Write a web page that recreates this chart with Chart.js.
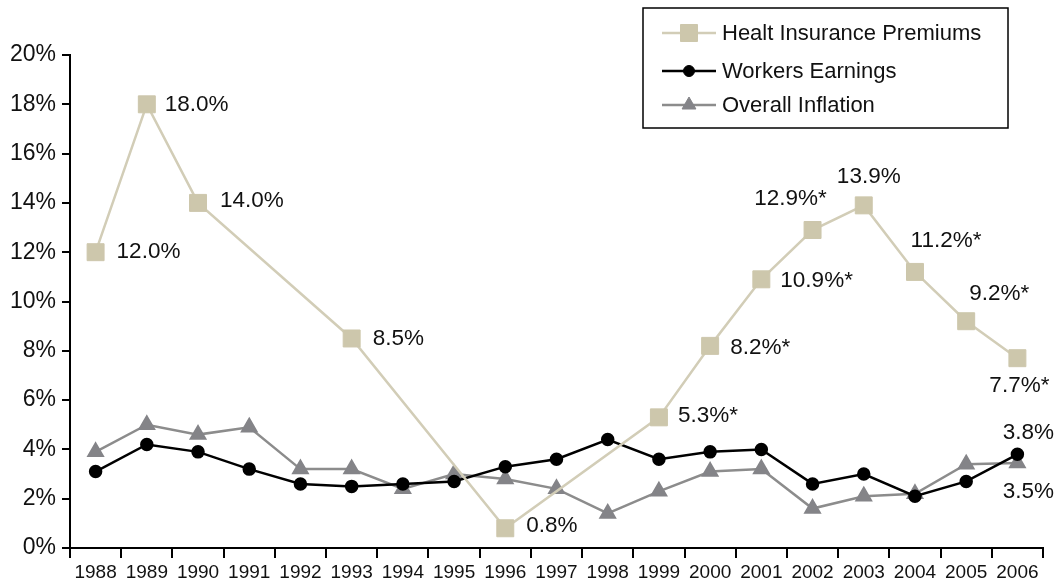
<!DOCTYPE html>
<html>
<head>
<meta charset="utf-8">
<script src="https://cdn.jsdelivr.net/npm/chart.js@4.4.1/dist/chart.umd.min.js"></script>
<style>
  html, body { margin: 0; padding: 0; background: #fff; }
  #wrap { width: 1059px; height: 583px; position: relative; }
</style>
</head>
<body>
<div id="wrap"><canvas id="c" width="1059" height="583"></canvas></div>
<script>
const years = ["1988","1989","1990","1991","1992","1993","1994","1995","1996","1997","1998","1999","2000","2001","2002","2003","2004","2005","2006"];
const premiums = [12.0, 18.0, 14.0, null, null, 8.5, null, null, 0.8, null, null, 5.3, 8.2, 10.9, 12.9, 13.9, 11.2, 9.2, 7.7];
const premiumLabels = ["12.0%","18.0%","14.0%",null,null,"8.5%",null,null,"0.8%",null,null,"5.3%*","8.2%*","10.9%*","12.9%*","13.9%","11.2%*","9.2%*","7.7%*"];
const earnings = [3.1, 4.2, 3.9, 3.2, 2.6, 2.5, 2.6, 2.7, 3.3, 3.6, 4.4, 3.6, 3.9, 4.0, 2.6, 3.0, 2.1, 2.7, 3.8];
const inflation = [3.9, 5.0, 4.6, 4.9, 3.2, 3.2, 2.4, 3.0, 2.8, 2.4, 1.4, 2.3, 3.1, 3.2, 1.6, 2.1, 2.2, 3.4, 3.45];
const yTicks = [0, 2, 4, 6, 8, 10, 12, 14, 16, 18, 20];
const seriesNames = ["Healt Insurance Premiums", "Workers Earnings", "Overall Inflation"];

// label placement (style): [dx, dy, textAlign]
const premiumLabelPos = [
  [21,0,"left"],[18,0,"left"],[22,-2,"left"],null,null,[21,0,"left"],null,null,[21,-2,"left"],null,null,
  [19,-2,"left"],[20,2,"left"],[19,1,"left"],[-22,-31,"center"],[5,-29,"center"],[31,-31,"center"],[33,-27,"center"],[2,28,"center"]
];
const extraLabels = [
  { ds: 1, idx: 18, text: "3.8%", dx: 11, dy: -22, align: "center" },
  { ds: 2, idx: 18, text: "3.5%", dx: 11, dy: 29, align: "center" }
];

const FONT = "'Liberation Sans', Arial, sans-serif";
const cPrem = "#cdc7ac", cPremLine = "#d2cdb7", cEarn = "#000000", cInfl = "#848488", cInflLine = "#8c8c8c";

const labelPlugin = {
  id: "dataLabels",
  afterDatasetsDraw(chart) {
    const ctx = chart.ctx;
    ctx.save();
    ctx.font = "22.5px " + FONT;
    ctx.fillStyle = "#111";
    ctx.textBaseline = "middle";
    const meta0 = chart.getDatasetMeta(0);
    premiumLabels.forEach((t, i) => {
      if (!t || !premiumLabelPos[i]) return;
      const p = meta0.data[i];
      const [dx, dy, al] = premiumLabelPos[i];
      ctx.textAlign = al;
      ctx.fillText(t, p.x + dx, p.y + dy);
    });
    extraLabels.forEach(l => {
      const p = chart.getDatasetMeta(l.ds).data[l.idx];
      ctx.textAlign = l.align;
      ctx.fillText(l.text, p.x + l.dx, p.y + l.dy);
    });
    ctx.restore();
  }
};

const legendPlugin = {
  id: "boxLegend",
  afterDraw(chart) {
    const ctx = chart.ctx;
    ctx.save();
    const bx = 643, by = 8, bw = 365, bh = 120;
    ctx.strokeStyle = "#000";
    ctx.lineWidth = 1.5;
    ctx.strokeRect(bx, by, bw, bh);
    const rows = [33, 71, 105];
    const styles = [
      { line: cPremLine, fill: cPrem, ps: "rect", r: 12 },
      { line: cEarn, fill: cEarn, ps: "circle", r: 5.5 },
      { line: cInflLine, fill: cInfl, ps: "triangle", r: 8 }
    ];
    rows.forEach((y, i) => {
      const s = styles[i];
      ctx.strokeStyle = s.line;
      ctx.lineWidth = 2.5;
      ctx.beginPath();
      ctx.moveTo(662, y); ctx.lineTo(716, y);
      ctx.stroke();
      ctx.fillStyle = s.fill;
      ctx.strokeStyle = s.fill;
      ctx.lineWidth = 1;
      Chart.helpers.drawPoint(ctx, { pointStyle: s.ps, radius: s.r, rotation: 0, borderWidth: 1 }, 689, y);
      ctx.fillStyle = "#111";
      ctx.font = "22px " + FONT;
      ctx.textAlign = "left";
      ctx.textBaseline = "middle";
      ctx.fillText(seriesNames[i], 722, y + 1);
    });
    ctx.restore();
  }
};

new Chart(document.getElementById("c"), {
  type: "line",
  data: {
    labels: years,
    datasets: [
      { label: seriesNames[0], data: premiums, spanGaps: true, borderColor: cPremLine, borderWidth: 2.5,
        pointStyle: "rect", pointRadius: 12, pointHoverRadius: 12, pointBackgroundColor: cPrem, pointBorderColor: cPrem, pointBorderWidth: 1, tension: 0 },
      { label: seriesNames[1], data: earnings, borderColor: cEarn, borderWidth: 2.5,
        pointStyle: "circle", pointRadius: 5.5, pointHoverRadius: 5.5, pointBackgroundColor: cEarn, pointBorderColor: cEarn, tension: 0 },
      { label: seriesNames[2], data: inflation, borderColor: cInflLine, borderWidth: 2.5,
        pointStyle: "triangle", pointRadius: 8, pointHoverRadius: 8, pointBackgroundColor: cInfl, pointBorderColor: cInfl, tension: 0 }
    ]
  },
  options: {
    responsive: false,
    animation: false,
    devicePixelRatio: 1,
    layout: { padding: { left: 0, right: 16, top: 55, bottom: 0 } },
    plugins: { legend: { display: false }, tooltip: { enabled: false } },
    scales: {
      x: {
        offset: true,
        grid: { offset: true, drawOnChartArea: false, drawTicks: true, tickLength: 10, color: "#000", lineWidth: 2 },
        border: { display: true, color: "#000", width: 2 },
        ticks: { color: "#111", font: { family: FONT, size: 19 }, padding: 3, maxRotation: 0, autoSkip: false },
        afterFit(scale) { scale.height = 35; }
      },
      y: {
        min: 0, max: 20,
        afterBuildTicks(scale) { scale.ticks = yTicks.map(v => ({ value: v })); },
        grid: { drawOnChartArea: false, drawTicks: true, tickLength: 8, color: "#000", lineWidth: 2 },
        border: { display: true, color: "#000", width: 2 },
        ticks: { color: "#111", font: { family: FONT, size: 23 }, padding: 6, callback: v => v + "%" },
        afterFit(scale) { scale.width = 70; }
      }
    }
  },
  plugins: [labelPlugin, legendPlugin]
});
</script>
</body>
</html>
